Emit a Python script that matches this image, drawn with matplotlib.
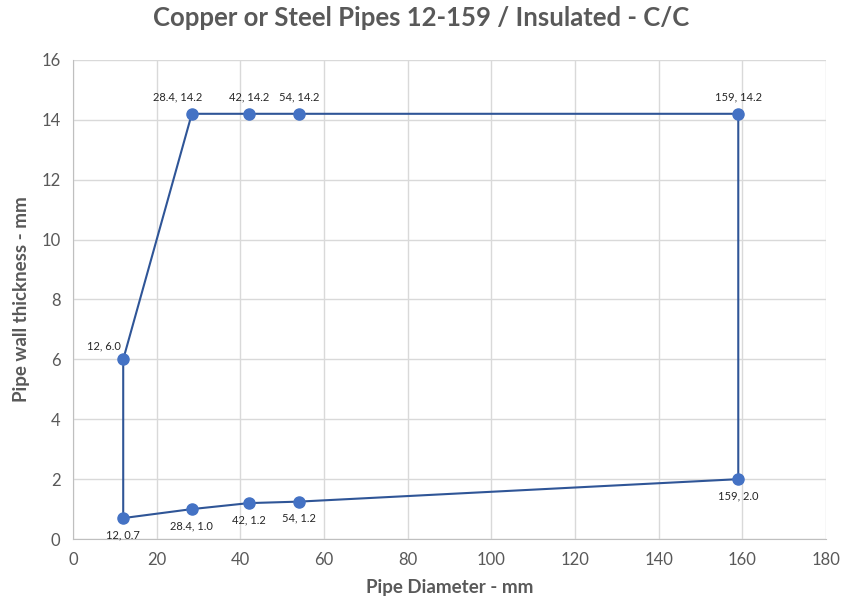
import matplotlib
matplotlib.use('Agg')
import matplotlib.pyplot as plt

# data (path goes round the loop)
diam = [12, 28.4, 42, 54, 159, 159, 54, 42, 28.4, 12, 12]
wall = [0.7, 1.0, 1.2, 1.25, 2.0, 14.2, 14.2, 14.2, 14.2, 6.0, 0.7]
labels = ['12, 0.7', '28.4, 1.0', '42, 1.2', '54, 1.2', '159, 2.0',
          '159, 14.2', '54, 14.2', '42, 14.2', '28.4, 14.2', '12, 6.0']
# where each label sits relative to its point (points offset)
label_offsets = [(0, -12), (0, -12), (0, -12), (0, -12), (0, -12),
                 (0, 12), (0, 12), (0, 12), (-10, 12), (-14, 10)]

plt.rcParams['font.family'] = ['Lato', 'DejaVu Sans']
grey = '#595959'

fig = plt.figure(figsize=(8.43, 6.05), dpi=100)
ax = fig.add_axes([0.0866, 0.109, 0.8934, 0.792])

ax.plot(diam, wall, color='#2F5597', lw=1.5, zorder=3)
ax.plot(diam[:-1], wall[:-1], 'o', color='#4472C4', ms=8, zorder=4)

for x, y, txt, off in zip(diam[:-1], wall[:-1], labels, label_offsets):
    ax.annotate(txt, (x, y), xytext=off, textcoords='offset points',
                ha='center', va='center', fontsize=8, color='#262626')

ax.set_xlim(0, 180)
ax.set_ylim(0, 16)
ax.set_xticks(range(0, 181, 20))
ax.set_yticks(range(0, 17, 2))
ax.grid(True, color='#D9D9D9', lw=1)
ax.set_axisbelow(True)
for side in ['top', 'right']:
    ax.spines[side].set_visible(False)
for side in ['left', 'bottom']:
    ax.spines[side].set_color('#BFBFBF')
ax.tick_params(length=0, labelsize=12, colors=grey, pad=9)

ax.set_xlabel('Pipe Diameter - mm', fontsize=13.5, fontweight='bold', color=grey, labelpad=8)
ax.set_ylabel('Pipe wall thickness - mm', fontsize=13.5, fontweight='bold', color=grey, labelpad=8)
fig.suptitle('Copper or Steel Pipes 12-159 / Insulated - C/C', y=0.99,
             fontsize=18.5, fontweight='bold', color=grey)

plt.savefig('out.png', dpi=100)
